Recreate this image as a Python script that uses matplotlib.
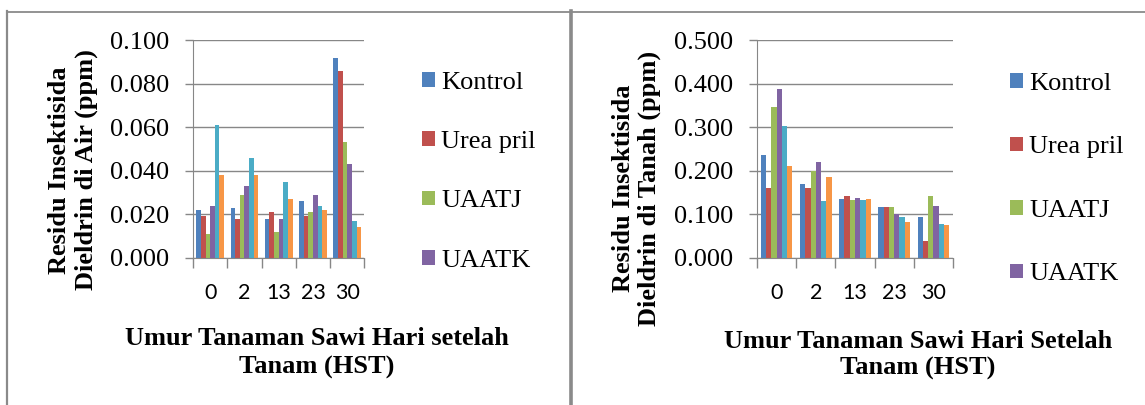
import matplotlib
matplotlib.use('Agg')
import matplotlib.pyplot as plt
from matplotlib.lines import Line2D
from matplotlib.ticker import FormatStrFormatter
import numpy as np

plt.rcParams['font.family'] = ['Liberation Serif', 'DejaVu Serif']

# umur tanaman (HST)
hst = ['0', '2', '13', '23', '30']
perlakuan = ['Kontrol', 'Urea pril', 'UAATJ', 'UAATK']

# residu dieldrin di air (ppm), one row per series (6 series, only 4 shown in legend)
air = [
    [0.022, 0.023, 0.018, 0.026, 0.092],
    [0.019, 0.018, 0.021, 0.019, 0.086],
    [0.011, 0.029, 0.012, 0.021, 0.053],
    [0.024, 0.033, 0.018, 0.029, 0.043],
    [0.061, 0.046, 0.035, 0.024, 0.017],
    [0.038, 0.038, 0.027, 0.022, 0.014],
]

# residu dieldrin di tanah (ppm)
tanah = [
    [0.237, 0.170, 0.134, 0.116, 0.094],
    [0.161, 0.161, 0.141, 0.116, 0.038],
    [0.346, 0.200, 0.132, 0.116, 0.141],
    [0.388, 0.220, 0.138, 0.100, 0.119],
    [0.302, 0.131, 0.132, 0.093, 0.078],
    [0.212, 0.185, 0.134, 0.081, 0.075],
]

colors = ['#4F81BD', '#C0504D', '#9BBB59', '#8064A2', '#4BACC6', '#F79646']
grey = '#878787'

W, H = 1145, 405
fig = plt.figure(figsize=(W / 100, H / 100), dpi=100)


def box(x0, y0, x1, y1):
    return [x0 / W, 1 - y1 / H, (x1 - x0) / W, (y1 - y0) / H]


def panel(ax, vals, ymax):
    x = np.arange(len(hst))
    n = len(vals)
    w = 0.135
    bars = []
    for i, v in enumerate(vals):
        b = ax.bar(x - w * (n - 1) / 2 + i * w, v, w, color=colors[i], edgecolor='none')
        bars.append(b)
    ax.set_xlim(-0.5, len(hst) - 0.5)
    ax.set_ylim(0, ymax)
    ax.set_yticks(np.linspace(0, ymax, 6))
    ax.yaxis.set_major_formatter(FormatStrFormatter('%.3f'))
    ax.set_xticks(x)
    ax.set_xticklabels(hst, fontfamily='Lato', fontsize=15.5)
    ax.set_xticks(np.arange(-0.5, len(hst)), minor=True)
    ax.tick_params(axis='x', which='major', length=0, pad=18.5)
    ax.tick_params(axis='x', which='minor', length=7, color=grey, width=1)
    ax.tick_params(axis='y', length=6, color=grey, width=1, pad=11, labelsize=19)
    ax.grid(axis='y', color=grey, lw=1)
    ax.set_axisbelow(True)
    for s in ['top', 'right']:
        ax.spines[s].set_visible(False)
    for s in ['left', 'bottom']:
        ax.spines[s].set_color(grey)
    return bars


ax1 = fig.add_axes(box(193, 40.3, 364.4, 257.7))
b1 = panel(ax1, air, 0.1)
ax2 = fig.add_axes(box(757, 40.3, 953, 257.7))
b2 = panel(ax2, tanah, 0.5)

fig.legend(b1[:4], perlakuan, loc='upper left', bbox_to_anchor=(421.8 / W, 1 - 72 / H),
           frameon=False, fontsize=19, borderpad=0, borderaxespad=0,
           handlelength=0.5, handleheight=0.48, handletextpad=0.24, labelspacing=1.41)
fig.legend(b2[:4], perlakuan, loc='upper left', bbox_to_anchor=(1009.6 / W, 1 - 73 / H),
           frameon=False, fontsize=19, borderpad=0, borderaxespad=0,
           handlelength=0.5, handleheight=0.48, handletextpad=0.24, labelspacing=1.57)

fig.text(73 / W, 1 - 170 / H, 'Residu Insektisida\nDieldrin di Air (ppm)', rotation=90,
         ha='center', va='center', ma='center', fontsize=19, fontweight='bold')
fig.text(636.5 / W, 1 - 188 / H, 'Residu Insektisida\nDieldrin di Tanah (ppm)', rotation=90,
         ha='center', va='center', ma='center', fontsize=19, fontweight='bold', linespacing=1.1)
fig.text(317 / W, 1 - 353 / H, 'Umur Tanaman Sawi Hari setelah\nTanam (HST)',
         ha='center', va='center', ma='center', fontsize=19, fontweight='bold', linespacing=1.27)
fig.text(918 / W, 1 - 355 / H, 'Umur Tanaman Sawi Hari Setelah\nTanam (HST)',
         ha='center', va='center', ma='center', fontsize=19, fontweight='bold', linespacing=1.2)

# panel frames
fig.add_artist(Line2D([7 / W, 1], [1 - 11.5 / H] * 2, transform=fig.transFigure, color='#8a8a8a', lw=1.3))
fig.add_artist(Line2D([7 / W] * 2, [0, 1 - 11 / H], transform=fig.transFigure, color='#8a8a8a', lw=1.6))
fig.add_artist(Line2D([570.5 / W] * 2, [0, 1 - 11 / H], transform=fig.transFigure, color='#8a8a8a', lw=2.6))

fig.savefig('out.png', dpi=100)
